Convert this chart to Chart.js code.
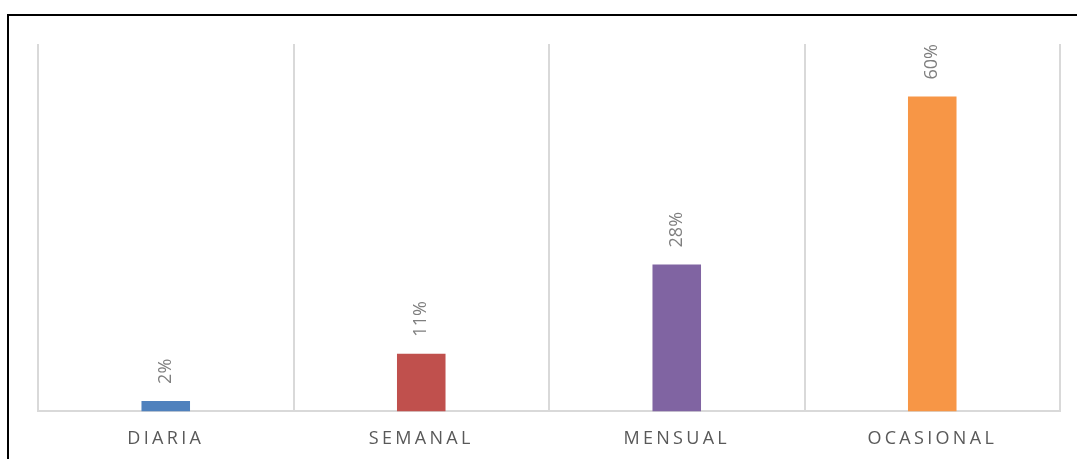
<!DOCTYPE html>
<html>
<head>
<meta charset="utf-8">
<script src="https://cdn.jsdelivr.net/npm/chart.js@4/dist/chart.umd.min.js"></script>
<style>
  html, body { margin: 0; padding: 0; background: #fff; overflow: hidden; }
  #frame {
    position: absolute; left: 7px; top: 14px;
    width: 1200px; height: 600px;
    border: 2px solid #000; box-sizing: border-box;
  }
  #wrap { position: absolute; left: 0; top: 0; width: 1077px; height: 467px; }
</style>
</head>
<body>
<div id="frame"></div>
<div id="wrap"><canvas id="chart"></canvas></div>
<script>
const categories = ['DIARIA', 'SEMANAL', 'MENSUAL', 'OCASIONAL'];
const percentages = [2, 11, 28, 60];
const barColors = ['#4F81BD', '#C0504D', '#8064A2', '#F79646'];

// category labels are letter-spaced, value labels are not
const spacingPlugin = {
    id: 'spacing',
    beforeDraw(chart) { chart.ctx.letterSpacing = '3.3px'; },
    beforeDatasetsDraw(chart) { chart.ctx.letterSpacing = '0px'; }
};

const valueLabels = {
    id: 'valueLabels',
    afterDatasetsDraw(chart) {
        const ctx = chart.ctx;
        const meta = chart.getDatasetMeta(0);
        ctx.save();
        ctx.letterSpacing = '0px';
        ctx.font = '18px "Open Sans"';
        ctx.fillStyle = '#7f7f7f';
        ctx.textAlign = 'left';
        ctx.textBaseline = 'middle';
        meta.data.forEach((bar, i) => {
            ctx.save();
            ctx.translate(bar.x, bar.y - 17);
            ctx.rotate(-Math.PI / 2);
            ctx.fillText(percentages[i] + '%', 0, 0);
            ctx.restore();
        });
        ctx.restore();
    }
};

new Chart(document.getElementById('chart'), {
    type: 'bar',
    data: {
        labels: categories,
        datasets: [{
            data: percentages,
            backgroundColor: barColors,
            borderWidth: 0,
            barPercentage: 0.19,
            categoryPercentage: 1
        }]
    },
    options: {
        responsive: true,
        maintainAspectRatio: false,
        animation: false,
        layout: { padding: { left: 38, right: 17, top: 44, bottom: 0 } },
        plugins: { legend: { display: false }, tooltip: { enabled: false } },
        scales: {
            x: {
                grid: { color: '#d9d9d9', lineWidth: 2, drawTicks: false, offset: true },
                border: { display: true, color: '#d9d9d9', width: 2 },
                ticks: {
                    color: '#595959',
                    font: { family: 'Open Sans', size: 18 },
                    padding: 17
                }
            },
            y: {
                display: false,
                min: 0,
                max: 70
            }
        }
    },
    plugins: [spacingPlugin, valueLabels]
});
</script>
</body>
</html>
